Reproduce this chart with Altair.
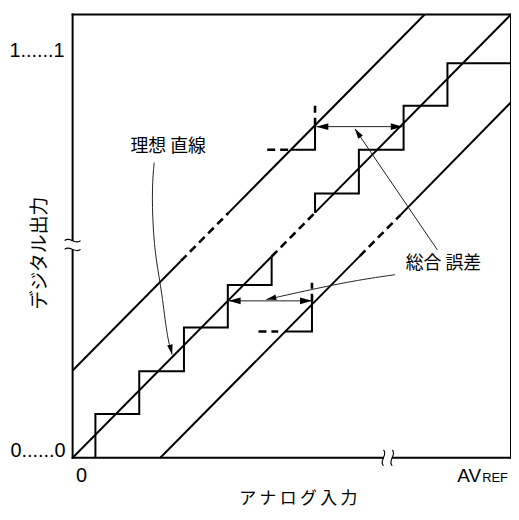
import altair as alt
import pandas as pd

# ---------------- data (units: LSB, full scale = 10) ----------------
FULL = 10

# plot frame (x, y, x2, y2)
frame_segs = [(0, 0, 10, 0), (0, 10, 10, 10), (0, 0, 0, 10), (10, 0, 10, 10)]

# straight reference lines: ideal (y=x), +2 LSB limit, -2 LSB limit
ideal_solid = [(0, 0, 4.54, 4.54), (5.53, 5.53, 10, 10)]
upper_solid = [(0, 1.97, 2.47, 4.44), (3.56, 5.53, 8.03, 10)]
lower_solid = [(2, 0, 6.55, 4.55), (7.48, 5.48, 10, 8.02)]
ideal_dash = [(4.54, 4.54, 5.53, 5.53)]
upper_dash = [(2.47, 4.44, 3.56, 5.53)]
lower_dash = [(6.55, 4.55, 7.48, 5.48)]
step_dash = [(4.44, 6.95, 4.92, 6.95), (5.53, 7.49, 5.53, 7.94),
             (4.24, 2.85, 4.69, 2.85), (5.46, 3.52, 5.46, 3.95)]

# conversion staircase
stair_lo_x = [0.52, 0.52, 1.52, 1.52, 2.54, 2.54, 3.54, 3.54, 4.54, 4.54]
stair_lo_y = [0, 0.99, 0.99, 1.95, 1.95, 2.94, 2.94, 3.90, 3.90, 4.54]
stair_hi_x = [5.53, 5.53, 6.53, 6.53, 7.55, 7.55, 8.55, 8.55, 10]
stair_hi_y = [5.53, 5.96, 5.96, 6.95, 6.95, 7.94, 7.94, 8.90, 8.90]
shift_up_x = [4.98, 5.53, 5.53]
shift_up_y = [6.95, 6.95, 7.49]
shift_dn_x = [4.84, 5.46, 5.46]
shift_dn_y = [2.85, 2.85, 3.52]

# error double arrows
err_hi = (5.56, 7.47, 7.53, 7.47)
err_lo = (3.56, 3.54, 5.46, 3.54)

# callout leaders
lead_ideal_x = [1.86, 1.81, 1.83, 1.90, 2.04, 2.15, 2.27]
lead_ideal_y = [6.66, 6.10, 5.20, 4.46, 3.72, 2.74, 2.33]
lead_err1 = (8.32, 4.69, 6.44, 7.42)
lead_err2_x = [7.35, 6.51, 5.60, 4.42]
lead_err2_y = [4.13, 4.01, 3.83, 3.57]

# arrow heads: x, y, direction (deg clockwise from up), size
head_x = [5.56, 7.53, 3.56, 5.46, 6.44, 2.27, 4.42]
head_y = [7.47, 7.47, 3.54, 3.54, 7.42, 2.33, 3.57]
head_ang = [270, 90, 270, 90, 326, 167, 257]
head_sz = [576, 576, 576, 576, 400, 400, 400]

# axis breaks
break_x = [0, 7.19]
break_y = [4.80, 0]
break_ang = [0, 90]

# texts
note_text = ["理想 直線", "総合 誤差"]
note_x = [2.18, 8.46]
note_y = [7.02, 4.37]

# ---------------- chart ----------------
xs = alt.Scale(domain=[0, FULL], nice=False, zero=False)
ys = alt.Scale(domain=[0, FULL], nice=False, zero=False)
X = lambda f: alt.X(f, type="quantitative", scale=xs, axis=None)
Y = lambda f: alt.Y(f, type="quantitative", scale=ys, axis=None)


def seg_df(segs):
    return pd.DataFrame(list(segs), columns=["x", "y", "x2", "y2"])


def rules(segs, **kw):
    return alt.Chart(seg_df(segs)).mark_rule(**kw).encode(
        x=X("x"), y=Y("y"), x2="x2:Q", y2="y2:Q")


def poly(parts):
    frames = []
    for name, px, py in parts:
        frames.append(pd.DataFrame({"id": name, "i": range(len(px)), "x": px, "y": py}))
    return pd.concat(frames, ignore_index=True)


frame = rules(frame_segs, color="black", strokeWidth=2, strokeCap="square")
solid = rules(ideal_solid + upper_solid + lower_solid, color="black", strokeWidth=2)
dashed = rules(ideal_dash + upper_dash + lower_dash + step_dash,
               color="black", strokeWidth=2.6, strokeDash=[8, 5])

stairs = alt.Chart(poly([
    ("lo", stair_lo_x, stair_lo_y), ("hi", stair_hi_x, stair_hi_y),
    ("up", shift_up_x, shift_up_y), ("dn", shift_dn_x, shift_dn_y),
])).mark_line(color="black", strokeWidth=2, strokeJoin="miter").encode(
    x=X("x"), y=Y("y"), detail="id:N", order="i:Q")

arrows = rules([err_hi, err_lo, lead_err1], color="#222", strokeWidth=1)

curves = alt.Chart(poly([
    ("ideal", lead_ideal_x, lead_ideal_y), ("err2", lead_err2_x, lead_err2_y),
])).mark_line(color="#222", strokeWidth=1, interpolate="basis").encode(
    x=X("x"), y=Y("y"), detail="id:N", order="i:Q")

heads = alt.Chart(pd.DataFrame({"x": head_x, "y": head_y, "a": head_ang, "s": head_sz})).mark_point(
    shape="M0,0L-0.28,1L0.28,1Z", filled=True, color="black", opacity=1, strokeWidth=0
).encode(x=X("x"), y=Y("y"), angle=alt.Angle("a:Q", scale=None), size=alt.Size("s:Q", scale=None))

bdf = pd.DataFrame({"x": break_x, "y": break_y, "a": break_ang})
break_mask = alt.Chart(bdf).mark_point(
    shape="M-0.5,-0.5L0.5,-0.5L0.5,0.5L-0.5,0.5Z", filled=True, color="white", opacity=1,
    strokeWidth=0, size=256
).encode(x=X("x"), y=Y("y"), angle=alt.Angle("a:Q", scale=None))
break_marks = alt.Chart(bdf).mark_point(
    shape="M-1,-0.55C-0.4,-1.2 0.4,0.1 1,-0.55M-1,0.55C-0.4,-0.1 0.4,1.2 1,0.55",
    filled=False, color="black", opacity=1, strokeWidth=1.1, size=256
).encode(x=X("x"), y=Y("y"), angle=alt.Angle("a:Q", scale=None))

notes = alt.Chart(pd.DataFrame({"t": note_text, "x": note_x, "y": note_y})).mark_text(
    font="Noto Sans CJK JP", fontSize=18, color="black", align="center", baseline="middle"
).encode(x=X("x"), y=Y("y"), text="t:N")

LAT = "Liberation Sans"
CJK = "Noto Sans CJK JP"


def label(txt, x, y, font=LAT, size=20, align="center", baseline="alphabetic", angle=0):
    kw = dict(text=txt, font=font, fontSize=size, color="black", align=align, baseline=baseline)
    if angle:
        kw["angle"] = angle
    return alt.Chart(pd.DataFrame({"v": [0]})).mark_text(**kw).encode(
        x=alt.value(x), y=alt.value(y))


labels = [
    label("1......1", -8, 43, align="right"),
    label("0......0", -7, 445, align="right"),
    label("0", 9, 470),
    label("AV", 387, 470, size=19, align="left"),
    label("REF", 412, 470, size=13, align="left"),
    label("デジタル出力", -33, 240, font=CJK, size=19, baseline="middle", angle=270),
    label("ア\u2009ナ\u2009ロ\u2009グ\u2009入\u2009力", 227, 487, font=CJK, size=17, baseline="middle"),
]

chart = alt.layer(
    solid, dashed, stairs, arrows, curves, heads, frame, break_mask, break_marks, notes, *labels
).properties(
    width=441, height=446,
    autosize=alt.AutoSizeParams(type="none"),
    padding={"left": 65, "top": 5, "right": 0, "bottom": 51},
).configure_view(strokeWidth=0)

chart.save("out.html", embed_options={"renderer": "svg", "actions": False})
